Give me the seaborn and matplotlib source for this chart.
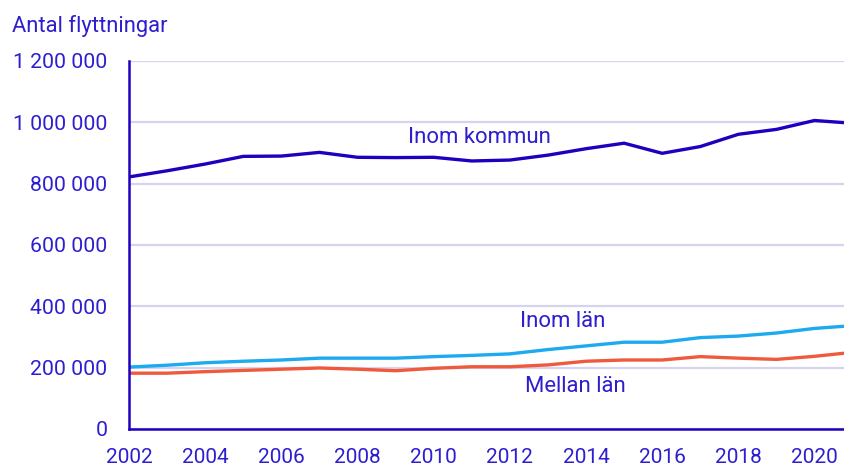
import matplotlib
matplotlib.use("Agg")
import matplotlib.pyplot as plt
import seaborn as sns
import pandas as pd
from matplotlib.ticker import FuncFormatter, MultipleLocator

years = list(range(2002, 2022))
inom_kommun = [822000, 842000, 864000, 889000, 890000, 902000, 886000, 885000, 886000, 874000,
               877000, 893000, 914000, 932000, 899000, 921000, 961000, 977000, 1006000, 997000]
inom_lan = [202000, 208000, 216000, 221000, 225000, 231000, 231000, 231000, 236000, 240000,
            245000, 259000, 271000, 283000, 283000, 298000, 303000, 313000, 328000, 337000]
mellan_lan = [182000, 182000, 187000, 191000, 195000, 199000, 195000, 190000, 198000, 203000,
              203000, 209000, 221000, 225000, 225000, 236000, 231000, 227000, 237000, 250000]
series_names = ["Inom kommun", "Inom län", "Mellan län"]
colors = ["#1e00be", "#1eaaf0", "#f05a3c"]

df = pd.DataFrame({"År": years * 3,
                   "Antal": inom_kommun + inom_lan + mellan_lan,
                   "Serie": [series_names[0]] * 20 + [series_names[1]] * 20 + [series_names[2]] * 20})

sns.set_theme(style="white")
plt.rcParams["font.family"] = ["Roboto", "DejaVu Sans"]
txt = "#2d1ecf"
axis_c = "#1e00be"

fig = plt.figure(figsize=(8.45, 4.68), dpi=100)
ax = fig.add_axes([129 / 845, 39 / 468, 1 - 129 / 845, 368 / 468])
sns.lineplot(data=df, x="År", y="Antal", hue="Serie", palette=colors, linewidth=2.4,
             ax=ax, legend=False)

ax.set_xlim(2002, 2020.8)
ax.set_ylim(0, 1200000)
ax.yaxis.set_major_locator(MultipleLocator(200000))
ax.yaxis.set_major_formatter(FuncFormatter(lambda v, p: f"{int(v):,}".replace(",", " ")))
ax.xaxis.set_major_locator(MultipleLocator(2))
ax.xaxis.set_minor_locator(MultipleLocator(1))
ax.grid(axis="y", color="#d4d4f0", linewidth=1.6)
ax.set_axisbelow(True)
ax.set_xlabel("")
ax.set_ylabel("")
for s in ["top", "right"]:
    ax.spines[s].set_visible(False)
for s in ["left", "bottom"]:
    ax.spines[s].set_color(axis_c)
    ax.spines[s].set_linewidth(1.8)
ax.tick_params(axis="both", which="both", direction="out", color=axis_c, width=1.8,
               labelcolor=txt)
ax.tick_params(axis="y", length=5, pad=10.5, labelsize=15.3)
ax.tick_params(axis="x", which="both", length=5, pad=8.5, labelsize=15)

fig.text(12 / 845, 1 - 31.7 / 468, "Antal flyttningar", color=txt, fontsize=15.8,
         va="baseline", ha="left")
ax.text(2009.32, 950000, "Inom kommun", color=txt, fontsize=15.9, ha="left", va="center")
ax.text(2013.38, 350000, "Inom län", color=txt, fontsize=15.9, ha="center", va="center")
ax.text(2013.72, 138000, "Mellan län", color=txt, fontsize=15.9, ha="center", va="center")

fig.savefig("out.png", dpi=100)
